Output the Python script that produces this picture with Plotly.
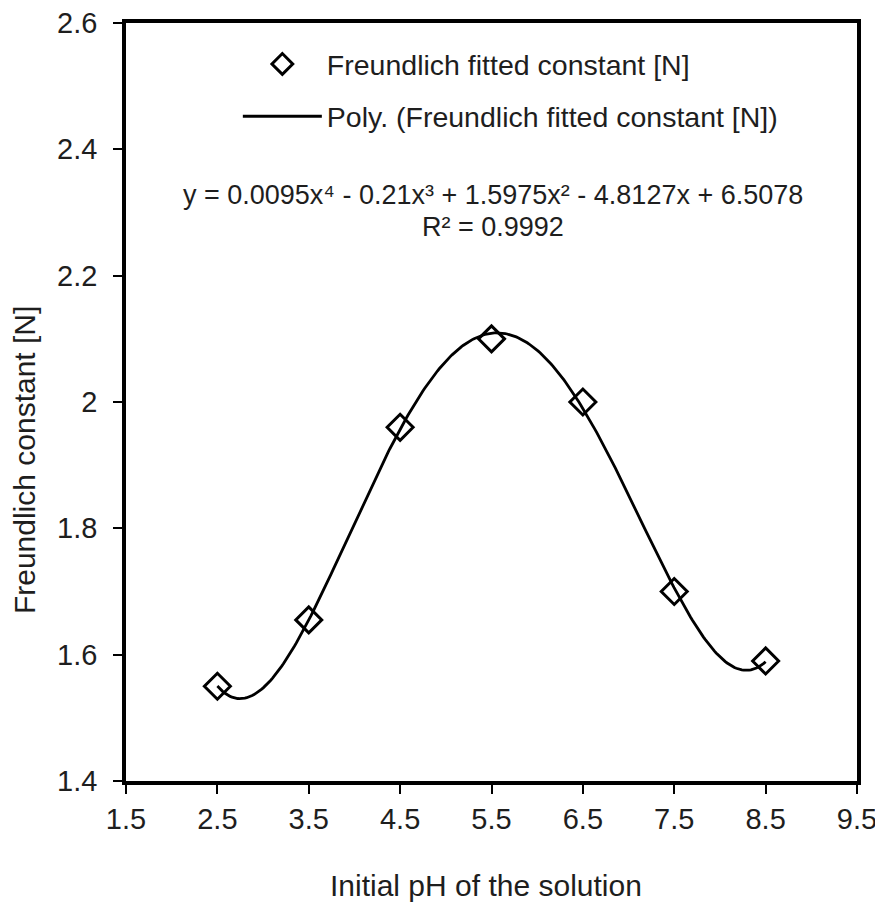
import numpy as np
import plotly.graph_objects as go

ph = [2.5, 3.5, 4.5, 5.5, 6.5, 7.5, 8.5]
freundlich_n = [1.55, 1.655, 1.96, 2.10, 2.00, 1.70, 1.59]

x_ticks = [1.5, 2.5, 3.5, 4.5, 5.5, 6.5, 7.5, 8.5, 9.5]
x_labels = ["1.5", "2.5", "3.5", "4.5", "5.5", "6.5", "7.5", "8.5", "9.5"]
y_ticks = [1.4, 1.6, 1.8, 2.0, 2.2, 2.4, 2.6]
y_labels = ["1.4", "1.6", "1.8", "2", "2.2", "2.4", "2.6"]

x_title = "Initial pH of the solution"
y_title = "Freundlich constant [N]"
eq_line1 = "y = 0.0095x⁴ - 0.21x³ + 1.5975x² - 4.8127x + 6.5078"
eq_line2 = "R² = 0.9992"

# 4th-order polynomial trendline fitted to the data (as in the original chart)
coef = np.polyfit(ph, freundlich_n, 4)
xs = np.linspace(min(ph), max(ph), 300)
ys = np.polyval(coef, xs)

FONT = "Liberation Sans, Arial, sans-serif"
TXT = "#1e1e1e"

fig = go.Figure()
fig.add_trace(go.Scatter(
    x=ph, y=freundlich_n, mode="markers",
    name="Freundlich fitted constant [N]",
    marker=dict(symbol="diamond-open", size=20, color="black",
                line=dict(width=3, color="black")),
    legend="legend", showlegend=True,
))
fig.add_trace(go.Scatter(
    x=xs, y=ys, mode="lines",
    name="Poly. (Freundlich fitted constant [N])",
    line=dict(color="black", width=2.8),
    legend="legend2", showlegend=True,
))

fig.add_annotation(
    x=0.502, y=2.3277, xref="paper", yref="y", text=eq_line1,
    showarrow=False, xanchor="center", yanchor="middle",
    font=dict(family=FONT, size=27, color=TXT),
)
fig.add_annotation(
    x=0.502, y=2.277, xref="paper", yref="y", text=eq_line2,
    showarrow=False, xanchor="center", yanchor="middle",
    font=dict(family=FONT, size=27, color=TXT),
)
# axis titles
fig.add_annotation(
    x=0.4925, y=-0.1385, xref="paper", yref="paper", text=x_title,
    showarrow=False, xanchor="center", yanchor="middle",
    font=dict(family=FONT, size=30, color=TXT),
)
fig.add_annotation(
    x=-0.138, y=0.4235, xref="paper", yref="paper", text=y_title,
    showarrow=False, xanchor="center", yanchor="middle", textangle=-90,
    font=dict(family=FONT, size=30, color=TXT),
)

fig.update_layout(
    width=875, height=901,
    margin=dict(l=118, r=26, t=15, b=128, autoexpand=False),
    showlegend=True,
    paper_bgcolor="white", plot_bgcolor="white",
    font=dict(family=FONT, color=TXT),
    legend=dict(x=0.153, y=0.979, xanchor="left", yanchor="top",
                font=dict(family=FONT, size=28.5, color=TXT),
                bgcolor="rgba(0,0,0,0)", itemwidth=79, itemsizing="trace"),
    legend2=dict(x=0.153, y=0.910, xanchor="left", yanchor="top",
                 font=dict(family=FONT, size=28.5, color=TXT),
                 bgcolor="rgba(0,0,0,0)", itemwidth=79),
    xaxis=dict(
        range=[1.5, 9.5], tickvals=x_ticks, ticktext=x_labels,
        automargin=False, ticklabeloverflow="allow",
        showgrid=False, zeroline=False,
        showline=True, linecolor="black", linewidth=3.5, mirror=True,
        ticks="outside", ticklen=9, tickwidth=2, tickcolor="black",
        tickfont=dict(family=FONT, size=29, color=TXT),
    ),
    yaxis=dict(
        range=[1.4, 2.6], tickvals=y_ticks, ticktext=y_labels,
        automargin=False, ticklabeloverflow="allow", ticklabelstandoff=10,
        showgrid=False, zeroline=False,
        showline=True, linecolor="black", linewidth=3.5, mirror=True,
        ticks="outside", ticklen=9, tickwidth=2, tickcolor="black",
        tickfont=dict(family=FONT, size=29, color=TXT),
    ),
)

fig.write_html("out.html")
